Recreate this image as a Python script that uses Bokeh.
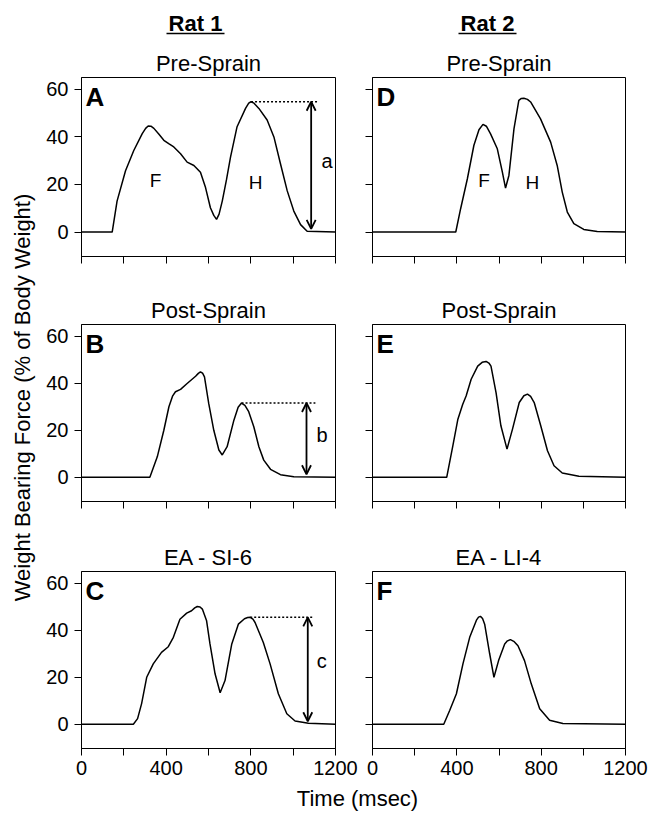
import math
from bokeh.plotting import figure
from bokeh.layouts import column, row
from bokeh.models import Range1d, FixedTicker, Arrow, OpenHead
from bokeh.core.properties import value
from bokeh.embed import file_html
from bokeh.resources import INLINE

FONT = "Liberation Sans"

# ---------------- data (time in msec, force in % of body weight) ----------------
time_A = [0, 145, 168, 208, 247, 287, 303, 315, 328, 342, 365, 389, 412, 436, 468, 499, 531, 562, 586,
          609, 625, 638, 650, 665, 685, 704, 735, 775, 790, 801, 815, 838, 877, 909, 940, 972, 1003,
          1035, 1066, 1200]
force_A = [0, 0, 13, 25.8, 34.3, 41.4, 43.6, 44.6, 44.5, 43.6, 41.2, 38.6, 37.2, 35.8, 32.9, 29.4, 28,
           25.1, 18.7, 10.2, 7, 5.3, 7.5, 13, 22, 31.5, 44.3, 52, 54.2, 54.8, 54.2, 52, 47.1, 40, 28.7,
           17.3, 8.8, 3.1, 0.3, 0]

time_B = [0, 323, 358, 389, 413, 430, 444, 468, 499, 539, 552, 562, 572, 581, 601, 625, 649, 665,
          688, 720, 740, 756, 772, 790, 814, 838, 861, 893, 940, 1003, 1200]
force_B = [0, 0, 8.7, 20, 30, 34.5, 36.4, 37.4, 39.9, 43, 44.2, 44.8, 44.3, 42.7, 31.4, 20, 11.6, 9.5,
           13, 24.3, 29.8, 31.6, 30.6, 27.9, 21.5, 13, 7.3, 3.4, 1.1, 0.2, 0]

time_C = [0, 245, 265, 284, 308, 339, 378, 410, 434, 465, 497, 520, 535, 547, 560, 571, 591, 607,
          631, 655, 678, 710, 741, 770, 785, 797, 810, 820, 859, 891, 930, 970, 1009, 1072, 1200]
force_C = [0, 0, 2.4, 8.8, 20, 25.7, 30.6, 33, 37, 44.7, 47.3, 48.3, 49.5, 50.1, 49.9, 49, 44, 34.2,
           21.5, 13.4, 18.6, 34.2, 42.6, 44.9, 45.4, 45.5, 44.7, 43.3, 34.8, 25.7, 13, 4.5, 1.4, 0.4, 0]

time_D = [0, 395, 418, 450, 481, 505, 524, 540, 560, 592, 616, 631, 647, 671, 694, 706, 718, 735,
          750, 797, 845, 876, 900, 924, 955, 1002, 1066, 1200]
force_D = [0, 0, 9.8, 22.4, 36.5, 43, 45.3, 44.5, 41.3, 35, 25.2, 18.5, 23.8, 43.4, 55.4, 56.2, 56.3,
           55.8, 54.7, 47.6, 37.8, 28, 16.8, 8.4, 3.5, 1.1, 0.2, 0]

time_E = [0, 352, 381, 405, 428, 444, 468, 499, 520, 539, 552, 562, 586, 609, 638, 664, 696, 718,
          735, 750, 767, 798, 830, 861, 900, 979, 1200]
force_E = [0, 0, 13.4, 24.7, 31.1, 34.6, 41.7, 47.3, 48.9, 49.3, 48.6, 47.3, 36, 21.9, 12, 20.5, 31.8,
           34.7, 35.4, 34.4, 31.8, 21.9, 11.3, 4.9, 1.8, 0.4, 0]

time_F = [0, 338, 366, 398, 429, 461, 493, 503, 512, 522, 532, 556, 576, 598, 627, 640, 654, 670,
          690, 721, 753, 793, 840, 903, 1200]
force_F = [0, 0, 5.9, 13, 25.7, 37, 44.3, 45.6, 45.9, 45, 42.6, 29.9, 20, 27.1, 34.2, 35.5, 36, 35.3,
           33.4, 27.1, 17.2, 6.6, 1.7, 0.3, 0]

panel_titles = {"A": "Pre-Sprain", "B": "Post-Sprain", "C": "EA - SI-6",
                "D": "Pre-Sprain", "E": "Post-Sprain", "F": "EA - LI-4"}
column_headers = ["Rat 1", "Rat 2"]
x_axis_label = "Time (msec)"
y_axis_label = "Weight Bearing Force (% of Body Weight)"

x_major_ticks = [0, 400, 800, 1200]
x_minor_ticks = [200, 600, 1000]
y_ticks = [0, 20, 40, 60]

# F / H peak labels (panel, text, x, y)
peak_labels = [("A", "F", 350, 21.6), ("A", "H", 822, 21),
               ("D", "F", 529, 21.7), ("D", "H", 758, 21)]
# hind-peak height markers: panel -> (dotted end, arrow x, mark, mark x, mark y)
height_marks = {"A": (1121, 1085, "a", 1160, 30),
                "B": (1105, 1063, "b", 1137, 18),
                "C": (1097, 1069, "c", 1135, 27)}

data = {"A": (time_A, force_A), "B": (time_B, force_B), "C": (time_C, force_C),
        "D": (time_D, force_D), "E": (time_E, force_E), "F": (time_F, force_F)}

ROW_H = [247, 247, 251]
ROW_BOTTOM = [28, 30, 34]
LEFT_W, RIGHT_W = 322, 291


def make_panel(letter, col, rowi):
    left = col == 0
    bottom = rowi == 2
    t, f = data[letter]
    p = figure(width=LEFT_W if left else RIGHT_W, height=ROW_H[rowi],
               x_range=Range1d(0, 1200), y_range=Range1d(-10.3, 65),
               output_backend="svg", toolbar_location=None, title=panel_titles[letter],
               min_border_left=45 if left else 14, min_border_right=23 if left else 24,
               min_border_top=40, min_border_bottom=ROW_BOTTOM[rowi])
    p.title.align = "center"
    p.title.text_font = FONT
    p.title.text_font_size = "22px"
    p.title.text_font_style = "normal"
    p.title.text_color = "black"
    p.title.standoff = 3
    p.grid.visible = False
    p.outline_line_color = "black"
    p.outline_line_alpha = 1
    p.outline_line_width = 1
    p.background_fill_color = "white"
    p.border_fill_color = "white"

    xa = p.xaxis[0]
    ya = p.yaxis[0]
    xa.ticker = FixedTicker(ticks=x_major_ticks, minor_ticks=x_minor_ticks)
    ya.ticker = FixedTicker(ticks=y_ticks, minor_ticks=[])
    for ax in (xa, ya):
        ax.major_tick_out = 7
        ax.major_tick_in = 0
        ax.minor_tick_in = 0
        ax.axis_line_color = "black"
        ax.major_tick_line_color = "black"
        ax.minor_tick_line_color = "black"
        ax.major_label_text_font = FONT
        ax.major_label_text_color = "black"
    xa.minor_tick_out = 7
    ya.minor_tick_out = 0
    if bottom:
        xa.major_label_text_font_size = "20px"
        xa.major_label_standoff = 5
    else:
        xa.major_label_text_font_size = "0px"
        xa.major_label_text_alpha = 0
        xa.major_label_standoff = 0
    if left:
        ya.major_label_text_font_size = "20px"
        ya.major_label_standoff = 6
    else:
        ya.major_label_text_font_size = "0px"
        ya.major_label_text_alpha = 0
        ya.major_label_standoff = 0

    p.line(t, f, line_color="black", line_width=1.5)

    p.text(x=[19], y=[56.8], text=[letter], text_font=value(FONT), text_font_size="26px",
           text_font_style="bold", text_align="left", text_baseline="middle", text_color="black")

    for (pl, txt, lx, ly) in peak_labels:
        if pl == letter:
            p.text(x=[lx], y=[ly], text=[txt], text_font=value(FONT), text_font_size="19px",
                   text_align="center", text_baseline="middle", text_color="black")

    if letter in height_marks:
        dot_end, arrow_x, mark, mx, my = height_marks[letter]
        hind = [(ff, tt) for tt, ff in zip(t, f) if tt >= 700]
        level, peak_t = max(hind)
        p.line([peak_t, dot_end], [level, level], line_color="black", line_width=1.5,
               line_dash="2 2")
        p.add_layout(Arrow(start=OpenHead(size=9, line_width=1.8, line_color="black"),
                           end=OpenHead(size=9, line_width=1.8, line_color="black"),
                           x_start=arrow_x, y_start=level, x_end=arrow_x, y_end=1.3,
                           line_width=1.8, line_color="black"))
        p.text(x=[mx], y=[my], text=[mark], text_font=value(FONT), text_font_size="20px",
               text_align="center", text_baseline="middle", text_color="black")
    return p


def blank(w, h):
    b = figure(width=w, height=h, x_range=Range1d(0, w), y_range=Range1d(0, h),
               output_backend="svg", toolbar_location=None, min_border=0,
               x_axis_type=None, y_axis_type=None, title=None, title_location=None)
    b.grid.visible = False
    b.outline_line_color = None
    b.background_fill_color = "white"
    b.border_fill_color = "white"
    return b


TOTAL_W = 36 + LEFT_W + RIGHT_W

header = blank(TOTAL_W, 37)
for cx, txt in zip([195, 487], column_headers):
    header.text(x=[cx], y=[14], text=[txt], text_font=value(FONT), text_font_size="22px",
                text_font_style="bold", text_align="center", text_baseline="middle",
                text_color="black")
    header.line([cx - 29, cx + 29], [4, 4], line_color="black", line_width=1.6)

ylab = blank(36, 745)
ylab.text(x=[22], y=[385], text=[y_axis_label], angle=math.pi / 2, text_font=value(FONT),
          text_font_size="22px", text_align="center", text_baseline="middle", text_color="black")

footer = blank(TOTAL_W, 30)
footer.text(x=[357], y=[14], text=[x_axis_label], text_font=value(FONT), text_font_size="22px",
            text_align="center", text_baseline="middle", text_color="black")

grid_rows = []
for rowi, (l1, l2) in enumerate([("A", "D"), ("B", "E"), ("C", "F")]):
    grid_rows.append(row(make_panel(l1, 0, rowi), make_panel(l2, 1, rowi)))

layout = column(header, row(ylab, column(*grid_rows)), footer)

open("out.html", "w").write(file_html(layout, INLINE))
